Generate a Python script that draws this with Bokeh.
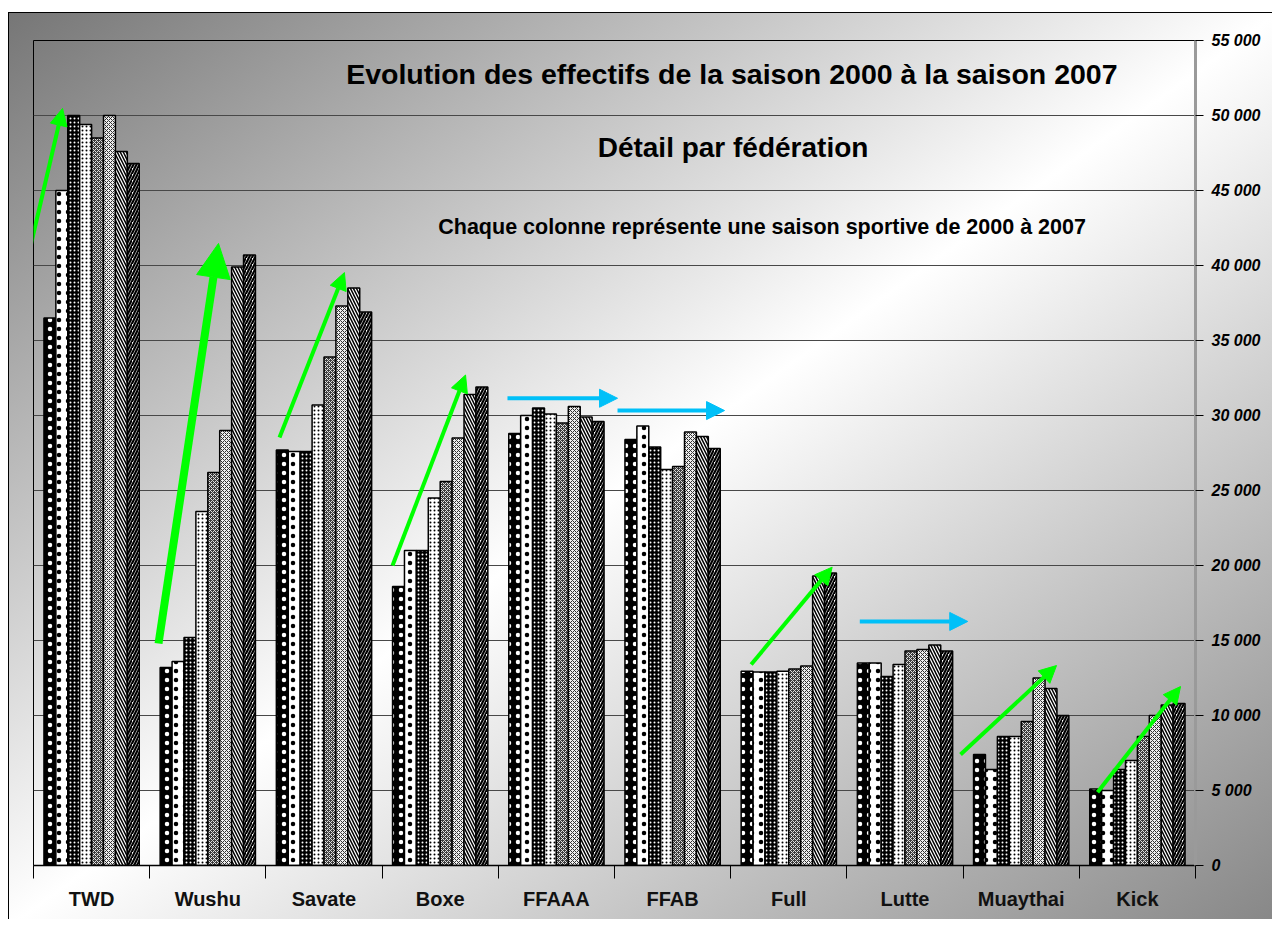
from bokeh.plotting import figure
from bokeh.models import (Range1d, FixedTicker, ColumnDataSource, Arrow, NormalHead,
                          Label, InlineStyleSheet)
from bokeh.transform import dodge
from bokeh.embed import file_html
from bokeh.resources import INLINE

# ---------------- data ----------------
categories = ["TWD", "Wushu", "Savate", "Boxe", "FFAAA", "FFAB", "Full", "Lutte", "Muaythai", "Kick"]
seasons = ["2000", "2001", "2002", "2003", "2004", "2005", "2006", "2007"]
s2000 = [36500, 13200, 27700, 18600, 28800, 28400, 12950, 13500, 7400, 5100]
s2001 = [45000, 13600, 27600, 21000, 30000, 29300, 12900, 13500, 6400, 5000]
s2002 = [50000, 15200, 27600, 21000, 30500, 27900, 12900, 12600, 8600, 6400]
s2003 = [49400, 23600, 30700, 24500, 30100, 26400, 12950, 13400, 8600, 7000]
s2004 = [48500, 26200, 33900, 25600, 29500, 26600, 13100, 14300, 9600, 8600]
s2005 = [50000, 29000, 37300, 28500, 30600, 28900, 13300, 14400, 12500, 10000]
s2006 = [47600, 39900, 38500, 31400, 29900, 28600, 19300, 14700, 11800, 10700]
s2007 = [46800, 40700, 36900, 31900, 29600, 27800, 19500, 14300, 10000, 10800]
series = [s2000, s2001, s2002, s2003, s2004, s2005, s2006, s2007]
y_ticks = list(range(0, 55001, 5000))
y_tick_labels = ["0", "5 000", "10 000", "15 000", "20 000", "25 000", "30 000",
                 "35 000", "40 000", "45 000", "50 000", "55 000"]

title1 = "Evolution des effectifs de la saison 2000 à la saison 2007"
title2 = "Détail par fédération"
title3 = "Chaque colonne représente une saison sportive de 2000 à 2007"

# trend arrows (category units, headcount units)
green_x0 = [-0.13, 2.117, 3.09, 6.176, 7.978, 9.157]
green_y0 = [37800, 28530, 20000, 13400, 7400, 4890]
green_x1 = [0.25, 2.676, 3.718, 6.873, 8.804, 9.871]
green_y1 = [50470, 39530, 32700, 19890, 13330, 11930]
big_x0, big_y0, big_x1, big_y1 = 1.076, 14800, 1.592, 41470
cyan_x0 = [4.079, 5.026, 7.111]
cyan_x1 = [5.026, 5.947, 8.04]
cyan_y = [31150, 30330, 16270]

FONT = "Liberation Sans"

# ---------------- figure ----------------
p = figure(frame_width=1162, frame_height=825,
           min_border_left=33, min_border_right=77, min_border_top=40, min_border_bottom=54,
           x_range=Range1d(0, 10), y_range=Range1d(0, 55000),
           y_axis_location="right", output_backend="svg", toolbar_location=None,
           tools="")
p.border_fill_color = None
p.background_fill_color = None
p.outline_line_color = "black"
p.outline_line_width = 1
p.stylesheets = [InlineStyleSheet(css=(
    ":host { background:"
    " linear-gradient(#000,#000) 8px 12px / 1px 915px no-repeat,"
    " linear-gradient(#000,#000) 8px 12px / 1272px 1px no-repeat,"
    " linear-gradient(to bottom right, #767676 0%, #ffffff 50%, #868686 100%) 8px 12px / 1272px 915px no-repeat,"
    " #ffffff; }"))]

# grid
p.xgrid.visible = False
p.ygrid.ticker = FixedTicker(ticks=y_ticks)
p.ygrid.grid_line_color = "#484848"
p.ygrid.grid_line_width = 1

# y axis (right)
ya = p.yaxis[0]
ya.ticker = FixedTicker(ticks=y_ticks)
ya.major_label_overrides = {t: l for t, l in zip(y_ticks, y_tick_labels)}
ya.major_label_text_font = FONT
ya.major_label_text_font_style = "bold italic"
ya.major_label_text_font_size = "16px"
ya.major_label_text_color = "black"
ya.major_tick_in = 0
ya.major_tick_out = 8
ya.major_tick_line_color = "black"
ya.minor_tick_line_color = None
ya.major_label_standoff = 8
ya.axis_line_color = "#9a9a9a"
ya.axis_line_width = 3

# x axis (categories)
centers = [i + 0.5 for i in range(len(categories))]
xa = p.xaxis[0]
xa.ticker = FixedTicker(ticks=centers, minor_ticks=list(range(len(categories) + 1)))
xa.major_label_overrides = {c: n for c, n in zip(centers, categories)}
xa.major_label_text_font = FONT
xa.major_label_text_font_style = "bold"
xa.major_label_text_font_size = "20px"
xa.major_label_text_color = "#111111"
xa.major_tick_line_color = None
xa.major_tick_in = 0
xa.major_tick_out = 13
xa.minor_tick_in = 0
xa.minor_tick_out = 13
xa.minor_tick_line_color = "black"
xa.minor_tick_line_width = 1
xa.major_label_standoff = 9
xa.axis_line_color = "black"
xa.axis_line_width = 1.5

# bars
data = {"x": centers}
for s, vals in zip(seasons, series):
    data["y" + s] = vals
src = ColumnDataSource(data)

bar_w = 0.1025
styles = [
    dict(fill_color="black", hatch_pattern="dot", hatch_color="white", hatch_scale=9, hatch_weight=1),
    dict(fill_color="white", hatch_pattern="dot", hatch_color="black", hatch_scale=9, hatch_weight=1),
    dict(fill_color="black", hatch_pattern="dot", hatch_color="white", hatch_scale=4, hatch_weight=1),
    dict(fill_color="white", hatch_pattern="dot", hatch_color="black", hatch_scale=4, hatch_weight=1),
    dict(fill_color="#3c3c3c", hatch_pattern="diagonal_cross", hatch_color="#e0e0e0", hatch_scale=4, hatch_weight=1),
    dict(fill_color="#f0f0f0", hatch_pattern="diagonal_cross", hatch_color="#303030", hatch_scale=4, hatch_weight=1),
    dict(fill_color="white", hatch_pattern="left_diagonal_line", hatch_color="black", hatch_scale=6, hatch_weight=1.5),
    dict(fill_color="white", hatch_pattern="right_diagonal_line", hatch_color="black", hatch_scale=6, hatch_weight=2.2),
]
for j, s in enumerate(seasons):
    p.vbar(x=dodge("x", (j - 3.5) * bar_w, range=p.x_range), top="y" + s, width=bar_w,
           bottom=0, source=src, line_color="black", line_width=1.5, **styles[j])

# arrows
GREEN = "#00ff00"
CYAN = "#00c0f8"
for x0, y0, x1, y1 in zip(green_x0, green_y0, green_x1, green_y1):
    p.add_layout(Arrow(x_start=x0, y_start=y0, x_end=x1, y_end=y1,
                       line_color=GREEN, line_width=4,
                       end=NormalHead(size=17, fill_color=GREEN, line_color=GREEN)))
p.add_layout(Arrow(x_start=big_x0, y_start=big_y0, x_end=big_x1, y_end=big_y1,
                   line_color=GREEN, line_width=8,
                   end=NormalHead(size=34, fill_color=GREEN, line_color=GREEN)))
for x0, x1, y in zip(cyan_x0, cyan_x1, cyan_y):
    p.add_layout(Arrow(x_start=x0, y_start=y, x_end=x1, y_end=y,
                       line_color=CYAN, line_width=4,
                       end=NormalHead(size=18, fill_color=CYAN, line_color=CYAN)))

# texts
p.add_layout(Label(x=6.01, y=52800, text=title1, text_align="center", text_baseline="middle",
                   text_font=FONT, text_font_style="bold", text_font_size="28.5px", text_color="black"))
p.add_layout(Label(x=6.02, y=47870, text=title2, text_align="center", text_baseline="middle",
                   text_font=FONT, text_font_style="bold", text_font_size="28px", text_color="black"))
p.add_layout(Label(x=6.27, y=42600, text=title3, text_align="center", text_baseline="middle",
                   text_font=FONT, text_font_style="bold", text_font_size="21.5px", text_color="black"))

open("out.html", "w").write(file_html(p, INLINE))
